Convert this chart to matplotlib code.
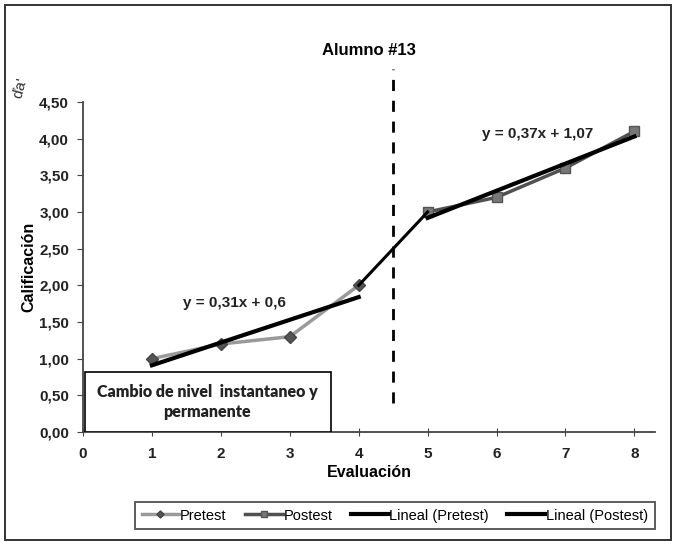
import matplotlib
matplotlib.use("Agg")
import matplotlib.pyplot as plt
from matplotlib.patches import Rectangle
import numpy as np

plt.rcParams["font.family"] = ["Liberation Sans", "DejaVu Sans"]

# data
pre_x = [1, 2, 3, 4]
pre_y = [1.0, 1.2, 1.3, 2.0]
post_x = [5, 6, 7, 8]
post_y = [3.0, 3.2, 3.6, 4.1]
x_ticks = [0, 1, 2, 3, 4, 5, 6, 7, 8]
y_ticks = [0.0, 0.5, 1.0, 1.5, 2.0, 2.5, 3.0, 3.5, 4.0, 4.5]
phase_change = 4.5

# trend lines (least squares, like Excel "Lineal")
m_pre, b_pre = np.polyfit(pre_x, pre_y, 1)
m_post, b_post = np.polyfit(post_x, post_y, 1)

fig = plt.figure(figsize=(6.77, 5.47), dpi=100)
ax = fig.add_axes([0.1226, 0.2102, 0.845, 0.6033])

# outer frame
fig.patches.append(Rectangle((0.008, 0.013), 0.983, 0.978, transform=fig.transFigure,
                             fill=False, edgecolor="#333", linewidth=1.4))
# small rotated mark at top left
fig.text(0.03, 0.84, "ďa'", rotation=75, fontsize=11, ha="center", va="center", color="#333")

ax.plot(pre_x, pre_y, color="#9a9a9a", linewidth=2.5, marker="D", markersize=6,
        markerfacecolor="#555", markeredgecolor="#444", label="Pretest", zorder=3)
ax.plot(post_x, post_y, color="#505050", linewidth=2.5, marker="s", markersize=7,
        markerfacecolor="#777", markeredgecolor="#555", label="Postest", zorder=3)

xp = np.array([pre_x[0], pre_x[-1]])
ax.plot(xp, m_pre * xp + b_pre, color="black", linewidth=3, label="Lineal (Pretest)", zorder=4)
xq = np.array([post_x[0], post_x[-1]])
ax.plot(xq, m_post * xq + b_post, color="black", linewidth=3, label="Lineal (Postest)", zorder=4)

# connection between phases
ax.plot([pre_x[-1], post_x[0]], [pre_y[-1], post_y[0]], color="black", linewidth=2.2, zorder=4)

# phase change line
ax.plot([phase_change, phase_change], [0.4, 4.95], color="black", linewidth=2,
        linestyle=(0, (4, 3.5)), clip_on=False, zorder=2)
ax.text(4.15, 5.2, "Alumno #13", ha="center", va="center", fontsize=12,
        fontweight="bold")

# equations
ax.text(2.2, 1.76, f"y = {m_pre:.2f}x + {b_pre:.1f}".replace(".", ","),
        ha="center", va="center", fontsize=11, fontweight="bold", color="#222")
ax.text(6.6, 4.07, f"y = {m_post:.2f}x + {b_post:.2f}".replace(".", ","),
        ha="center", va="center", fontsize=11, fontweight="bold", color="#222")

# annotation box
ax.add_patch(Rectangle((0.03, 0.0), 3.57, 0.82, fill=True, facecolor="white",
                       edgecolor="black", linewidth=1.2, zorder=5))
ax.text(1.8, 0.41, "Cambio de nivel  instantaneo y\npermanente", ha="center", va="center",
        fontsize=11.5, fontweight="heavy", family=["Lato", "DejaVu Sans"],
        linespacing=1.3, zorder=6, color="#222")

ax.set_xlim(0, 8.3)
ax.set_ylim(0, 4.5)
ax.set_xticks(x_ticks)
ax.set_yticks(y_ticks)
ax.set_yticklabels([f"{v:.2f}".replace(".", ",") for v in y_ticks])
for s in ["top", "right"]:
    ax.spines[s].set_visible(False)
for s in ["left", "bottom"]:
    ax.spines[s].set_color("#444")
    ax.spines[s].set_linewidth(1.3)
ax.tick_params(axis="y", direction="out", length=4, labelsize=11, colors="#444",
               labelcolor="#222", pad=6)
ax.tick_params(axis="x", direction="inout", length=6, labelsize=11, colors="#444",
               labelcolor="#222", pad=8)
for lbl in ax.get_xticklabels() + ax.get_yticklabels():
    lbl.set_fontweight("bold")

ax.set_xlabel("Evaluación", fontsize=11.5, fontweight="bold", labelpad=3)
ax.set_ylabel("Calificación", fontsize=11.5, fontweight="bold", labelpad=2)

leg = ax.legend(loc="upper center", bbox_to_anchor=(0.545, -0.19), ncol=4, fontsize=10.5,
                frameon=True, fancybox=False, edgecolor="#333", handlelength=2.6,
                handletextpad=0.05, columnspacing=1.25, borderpad=0.45, markerscale=0.6)
leg.get_frame().set_linewidth(1.4)

fig.savefig("out.png", dpi=100)
